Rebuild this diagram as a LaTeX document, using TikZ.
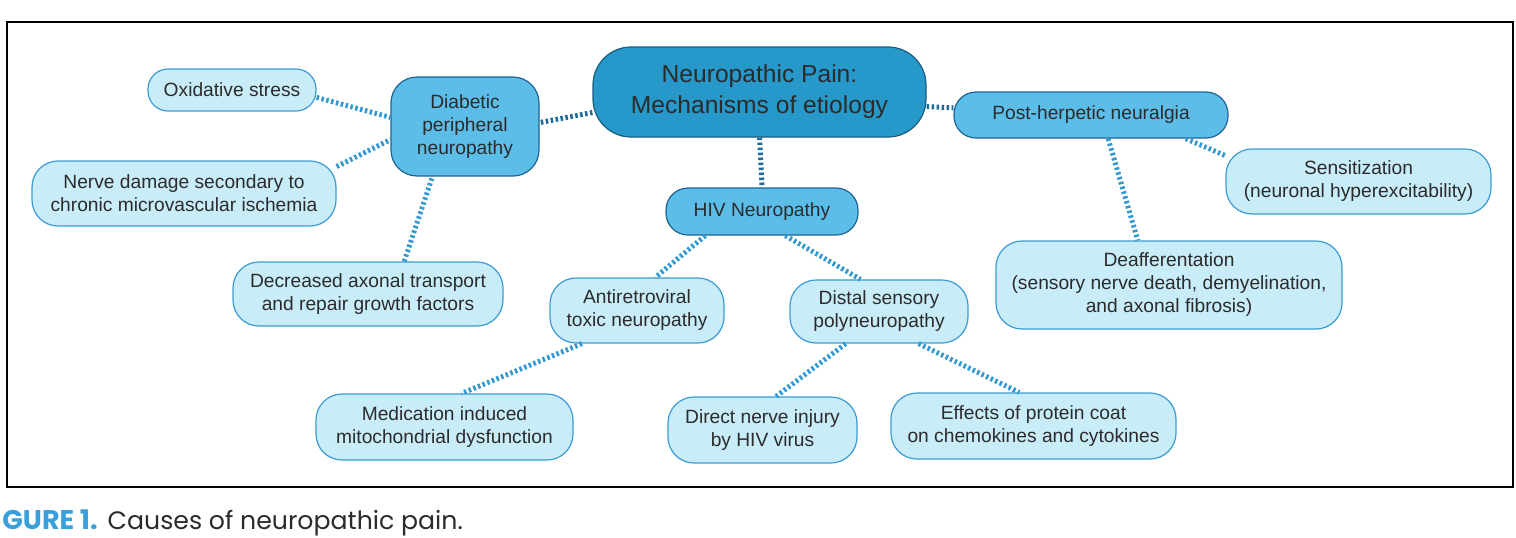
\documentclass[tikz,border=0pt]{standalone}
\usepackage{fontspec}
\setmainfont{Liberation Sans}
\newfontfamily\capfont{Poppins}
\usepackage{xcolor}
\usetikzlibrary{positioning,calc}

\definecolor{mainfill}{HTML}{2698C9}
\definecolor{mainedge}{HTML}{1B5C82}
\definecolor{midfill}{HTML}{5BBDE8}
\definecolor{midedge}{HTML}{1E6490}
\definecolor{lightfill}{HTML}{C9ECF9}
\definecolor{lightedge}{HTML}{3B9BD3}
\definecolor{darkline}{HTML}{1F6B98}
\definecolor{lightline}{HTML}{3399D0}
\definecolor{txt}{HTML}{2B2B2B}
\definecolor{capblue}{HTML}{3AA0DC}

\begin{document}
\begin{tikzpicture}[x=0.5pt,y=-0.5pt,
   font=\fontsize{9.6}{11.5}\selectfont,text=txt,
   box/.style={rectangle,rounded corners=11pt,draw,line width=0.6pt,
     inner sep=0pt,align=center},
   mainbox/.style={box,rounded corners=19pt,fill=mainfill,draw=mainedge,
     font=\fontsize{12.3}{15.5}\selectfont},
   midbox/.style={box,fill=midfill,draw=midedge},
   leaf/.style={box,rounded corners=13pt,fill=lightfill,draw=lightedge},
   lnk/.style={line width=2.5pt,dash pattern=on 1.25pt off 1.25pt,lightline},
   dlnk/.style={lnk,darkline}]
  \useasboundingbox (0,0) rectangle (1516,537);
  \draw[line width=1pt] (7,22) rectangle (1513,487);

  % centre and the three groups
  \node[mainbox,minimum width=166.5pt,minimum height=45pt] (main) at (759.5,92)
    {Neuropathic Pain:\\Mechanisms of etiology};
  \node[midbox,rounded corners=13pt,minimum width=74pt,minimum height=49.5pt] (dia) at (465,126.5)
    {Diabetic\\peripheral\\neuropathy};
  \node[midbox,minimum width=137pt,minimum height=23pt] (post) at (1091,115)
    {Post-herpetic neuralgia};
  \node[midbox,minimum width=96pt,minimum height=23.5pt] (hiv) at (762,211.5)
    {HIV Neuropathy};

  % diabetic
  \node[leaf,rounded corners=10pt,minimum width=84pt,minimum height=21pt] (ox) at (232,90)
    {Oxidative stress};
  \node[leaf,minimum width=152pt,minimum height=32.5pt] (nerve) at (184,193.5)
    {Nerve damage secondary to\\chronic microvascular ischemia};
  \node[leaf,minimum width=135pt,minimum height=32pt] (dec) at (368,294)
    {Decreased axonal transport\\and repair growth factors};

  % post-herpetic
  \node[leaf,minimum width=132.5pt,minimum height=32.5pt] (sens) at (1358.5,181.5)
    {Sensitization\\(neuronal hyperexcitability)};
  \node[leaf,minimum width=173pt,minimum height=44pt] (deaff) at (1169,285)
    {Deafferentation\\(sensory nerve death, demyelination,\\and axonal fibrosis)};

  % HIV
  \node[leaf,minimum width=87pt,minimum height=32.5pt] (anti) at (637,310.5)
    {Antiretroviral\\toxic neuropathy};
  \node[leaf,minimum width=89pt,minimum height=31.5pt] (dist) at (879,311.5)
    {Distal sensory\\polyneuropathy};
  \node[leaf,minimum width=128.5pt,minimum height=33pt] (med) at (444.5,427)
    {Medication induced\\mitochondrial dysfunction};
  \node[leaf,minimum width=94.5pt,minimum height=33pt] (dir) at (762.5,430)
    {Direct nerve injury\\by HIV virus};
  \node[leaf,minimum width=142.5pt,minimum height=33pt] (eff) at (1033.5,426)
    {Effects of protein coat\\on chemokines and cytokines};

  % links
  \draw[dlnk] (main.187) -- (dia.3.5);
  \draw[dlnk] (main.355.5) -- (post.177);
  \draw[dlnk] (main.south) -- (hiv.north);
  \draw[lnk] (ox.355) -- (dia.173);
  \draw[lnk] (nerve.10.8) -- (dia.190.7);
  \draw[lnk] (dec.42.4) -- (dia.237.4);
  \draw[lnk] (post.306.5) -- (deaff.125);
  \draw[lnk] (post.346) -- (sens.169);
  \draw[lnk] (hiv.203) -- (anti.61);
  \draw[lnk] (hiv.314) -- (dist.120);
  \draw[lnk] (anti.211) -- (med.63);
  \draw[lnk] (dist.224) -- (dir.68.5);
  \draw[lnk] (dist.321) -- (eff.113);

  \node[anchor=base west,inner sep=0pt,font=\capfont\fontsize{12.6}{15}\selectfont]
    (cap) at (2,529) {{\fontsize{13.5}{15}\selectfont\bfseries\color{capblue}GURE 1.}\hspace{5pt}Causes of neuropathic pain.};
\end{tikzpicture}
\end{document}
